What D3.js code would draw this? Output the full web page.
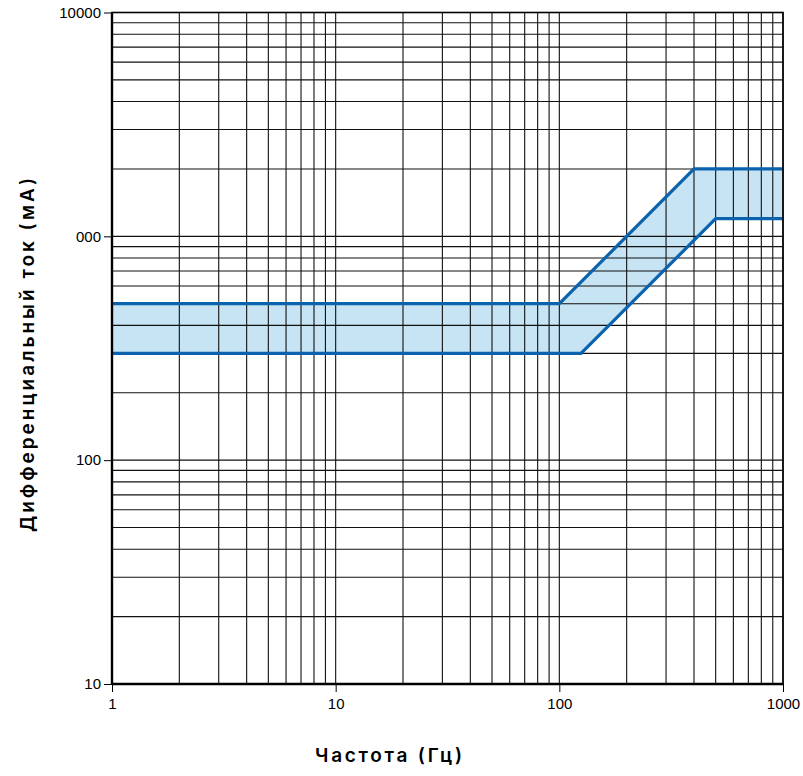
<!DOCTYPE html>
<html>
<head>
<meta charset="utf-8">
<script src="https://cdn.jsdelivr.net/npm/d3@7"></script>
<style>
  html, body { margin: 0; padding: 0; background: #fff; }
  svg { display: block; }
  text { font-family: "Liberation Sans", Arial, Helvetica, sans-serif; }
</style>
</head>
<body>
<svg id="chart" width="803" height="776"></svg>
<script>
// ---- data ----
const xDomain = [1, 1000];
const yDomain = [10, 10000];
const xTickValues = [1, 10, 100, 1000];
const xTickLabels = ["1", "10", "100", "1000"];
const yTickValues = [10, 100, 1000, 10000];
const yTickLabels = ["10", "100", "000", "10000"];
// upper boundary of the band (frequency Hz, current mA)
const upperFreq = [1, 100, 400, 1000];
const upperCurrent = [500, 500, 2000, 2000];
// lower boundary of the band
const lowerFreq = [1, 125, 500, 1000];
const lowerCurrent = [300, 300, 1200, 1200];
const xTitle = "Частота (Гц)";
const yTitle = "Дифференциальный ток (мА)";

(function () {
// ---- layout ----
const svg = d3.select("#chart");
const pL = 112, pR = 783, pT = 12.5, pB = 684;

const x = d3.scaleLog().domain(xDomain).range([pL, pR]);
const y = d3.scaleLog().domain(yDomain).range([pB, pT]);

function logGrid(domain) {
  const vals = [];
  for (let d = domain[0]; d < domain[1]; d *= 10) {
    for (let k = 1; k <= 9; k++) vals.push(d * k);
  }
  vals.push(domain[1]);
  return vals;
}

const upper = upperFreq.map((f, i) => [f, upperCurrent[i]]);
const lower = lowerFreq.map((f, i) => [f, lowerCurrent[i]]);

const bandPts = upper.concat(lower.slice().reverse());
const line = d3.line().x(d => x(d[0])).y(d => y(d[1]));

svg.append("path")
  .attr("d", line(bandPts) + "Z")
  .attr("fill", "#c6e4f4")
  .attr("stroke", "none");

// grid
const g = svg.append("g");
g.selectAll("line.vx").data(logGrid(xDomain)).join("line")
  .attr("x1", d => x(d)).attr("x2", d => x(d))
  .attr("y1", pT).attr("y2", pB)
  .attr("stroke", "#111").attr("stroke-width", 1.1);
g.selectAll("line.hy").data(logGrid(yDomain)).join("line")
  .attr("x1", pL).attr("x2", pR)
  .attr("y1", d => y(d)).attr("y2", d => y(d))
  .attr("stroke", "#111").attr("stroke-width", 1.1);

// band boundaries
svg.append("path").attr("d", line(upper))
  .attr("fill", "none").attr("stroke", "#0b62ad").attr("stroke-width", 3.2);
svg.append("path").attr("d", line(lower))
  .attr("fill", "none").attr("stroke", "#0b62ad").attr("stroke-width", 3.2);

// frame
svg.append("rect")
  .attr("x", pL).attr("y", pT)
  .attr("width", pR - pL).attr("height", pB - pT)
  .attr("fill", "none").attr("stroke", "#000").attr("stroke-width", 1.6);
svg.append("line").attr("x1", pL).attr("x2", pL).attr("y1", pT).attr("y2", pB)
  .attr("stroke", "#000").attr("stroke-width", 2.4);
svg.append("line").attr("x1", pL).attr("x2", pR).attr("y1", pB).attr("y2", pB)
  .attr("stroke", "#000").attr("stroke-width", 2.4);

// axes
const xAxis = d3.axisBottom(x)
  .tickValues(xTickValues)
  .tickFormat((d, i) => xTickLabels[i])
  .tickSize(8).tickPadding(6);
const yAxis = d3.axisLeft(y)
  .tickValues(yTickValues)
  .tickFormat((d, i) => yTickLabels[i])
  .tickSize(8).tickPadding(3);

const gx = svg.append("g").attr("transform", `translate(0,${pB})`).call(xAxis);
const gy = svg.append("g").attr("transform", `translate(${pL},0)`).call(yAxis);
[gx, gy].forEach(a => {
  a.select(".domain").remove();
  a.selectAll(".tick line").attr("stroke", "#000").attr("stroke-width", 1);
  a.selectAll(".tick text").attr("fill", "#000")
    .style("font-size", "15px")
    .style("font-family", "'Liberation Sans', Arial, sans-serif");
});

// titles
svg.append("text")
  .attr("x", 388.5).attr("y", 762)
  .attr("text-anchor", "middle")
  .attr("textLength", 147).attr("lengthAdjust", "spacing")
  .style("font-family", "Inter, 'Liberation Sans', Arial, sans-serif")
  .style("font-size", "19px").style("font-weight", "600")
  .text(xTitle);
svg.append("text")
  .attr("transform", "translate(34,355) rotate(-90)")
  .attr("text-anchor", "middle")
  .attr("textLength", 354).attr("lengthAdjust", "spacing")
  .style("font-family", "Inter, 'Liberation Sans', Arial, sans-serif")
  .style("font-size", "19px").style("font-weight", "600")
  .text(yTitle);
})();
</script>
</body>
</html>
